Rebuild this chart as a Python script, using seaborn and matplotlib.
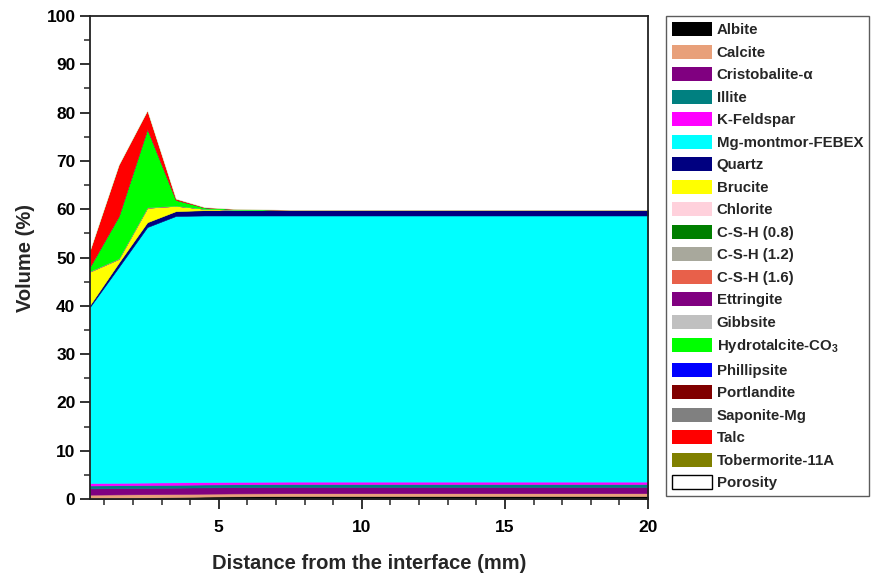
import matplotlib
matplotlib.use("Agg")
import matplotlib.pyplot as plt
from matplotlib.patches import Patch
from matplotlib.ticker import MultipleLocator
import seaborn as sns
import numpy as np

# ---------------- data ----------------
distance = [0.5, 1.5, 2.5, 3.5, 4.5, 5.5, 7.5, 10, 12.5, 15, 17.5, 20]

albite       = [0.1, 0.2, 0.3, 0.4, 0.5, 0.55, 0.6, 0.6, 0.6, 0.6, 0.6, 0.6]
calcite      = [0.8, 0.75, 0.7, 0.65, 0.6, 0.6, 0.6, 0.6, 0.6, 0.6, 0.6, 0.6]
cristobalite = [1.3, 1.3, 1.3, 1.3, 1.3, 1.3, 1.3, 1.3, 1.3, 1.3, 1.3, 1.3]
illite       = [0.6, 0.6, 0.6, 0.6, 0.6, 0.6, 0.6, 0.6, 0.6, 0.6, 0.6, 0.6]
kfeldspar    = [0.5, 0.5, 0.5, 0.5, 0.5, 0.5, 0.5, 0.5, 0.5, 0.5, 0.5, 0.5]
mg_montmor   = [36.5, 44.65, 52.9, 55.15, 55.2, 55.15, 55.1, 55.1, 55.1, 55.1, 55.1, 55.1]
quartz       = [0.4, 0.9, 1.0, 1.0, 1.1, 1.1, 1.1, 1.1, 1.1, 1.1, 1.1, 1.1]
brucite      = [6.9, 0.8, 3.0, 1.1, 0.3, 0.1, 0.0, 0.0, 0.0, 0.0, 0.0, 0.0]
chlorite     = [0.0] * 12
csh08        = [0.0] * 12
csh12        = [0.0] * 12
csh16        = [0.1, 0.1, 0.1, 0.05, 0.0, 0.0, 0.0, 0.0, 0.0, 0.0, 0.0, 0.0]
ettringite   = [0.0] * 12
gibbsite     = [0.0] * 12
hydrotalcite = [1.0, 8.8, 16.3, 1.2, 0.3, 0.2, 0.1, 0.1, 0.1, 0.1, 0.1, 0.1]
phillipsite  = [0.0] * 12
portlandite  = [0.0] * 12
saponite     = [0.0] * 12
talc         = [3.4, 10.6, 3.8, 0.25, 0.05, 0.0, 0.0, 0.0, 0.0, 0.0, 0.0, 0.0]
tobermorite  = [0.0] * 12

labels = ["Albite", "Calcite", "Cristobalite-\u03b1", "Illite", "K-Feldspar",
          "Mg-montmor-FEBEX", "Quartz", "Brucite", "Chlorite", "C-S-H (0.8)",
          "C-S-H (1.2)", "C-S-H (1.6)", "Ettringite", "Gibbsite",
          "Hydrotalcite-CO$_3$", "Phillipsite", "Portlandite", "Saponite-Mg",
          "Talc", "Tobermorite-11A", "Porosity"]

colors = ["#000000", "#E8A07A", "#800080", "#008080", "#FF00FF",
          "#00FFFF", "#000080", "#FFFF00", "#FFD1DC", "#007F00",
          "#A8A89C", "#E8604A", "#800080", "#C0C0C0",
          "#00FF00", "#0000FF", "#800000", "#808080",
          "#FF0000", "#808000", "#FFFFFF"]

minerals = [albite, calcite, cristobalite, illite, kfeldspar, mg_montmor,
            quartz, brucite, chlorite, csh08, csh12, csh16, ettringite,
            gibbsite, hydrotalcite, phillipsite, portlandite, saponite,
            talc, tobermorite]
porosity = list(100 - np.sum(np.array(minerals), axis=0))
series = minerals + [porosity]

# ---------------- style ----------------
sns.set_theme(style="ticks")
plt.rcParams["font.family"] = ["Liberation Sans", "DejaVu Sans"]
plt.rcParams["font.weight"] = "bold"
plt.rcParams["mathtext.fontset"] = "custom"
plt.rcParams["mathtext.rm"] = "Liberation Sans:bold"
plt.rcParams["mathtext.it"] = "Liberation Sans:bold"
plt.rcParams["mathtext.bf"] = "Liberation Sans:bold"

fig = plt.figure(figsize=(8.72, 5.79), dpi=100)
ax = fig.add_axes([90 / 872, 1 - 499 / 579, (648 - 90) / 872, (499 - 16) / 579])

polys = ax.stackplot(distance, *series, colors=colors, linewidth=0.4)
for p, c in zip(polys, colors):
    p.set_edgecolor(c)

ax.set_xlim(0.5, 20)
ax.set_ylim(0, 100)
ax.xaxis.set_major_locator(MultipleLocator(5))
ax.xaxis.set_minor_locator(MultipleLocator(1))
ax.yaxis.set_major_locator(MultipleLocator(10))
ax.yaxis.set_minor_locator(MultipleLocator(5))
ax.tick_params(which="major", direction="out", length=7, width=1.3,
               labelsize=12.5, colors="#222222", labelcolor="black")
ax.tick_params(which="minor", direction="out", length=4, width=1.1)
ax.tick_params(axis="x", which="both", top=False, pad=8)
ax.tick_params(axis="y", which="both", right=False)
for lab in ax.get_xticklabels() + ax.get_yticklabels():
    lab.set_fontweight("bold")
for s in ax.spines.values():
    s.set_linewidth(1.3)
    s.set_color("#222222")

ax.set_xlabel("Distance from the interface (mm)", fontsize=14.5,
              fontweight="bold", labelpad=14)
ax.set_ylabel("Volume (%)", fontsize=14.5, fontweight="bold", labelpad=8)

handles = []
for lab, c in zip(labels, colors):
    if lab == "Porosity":
        handles.append(Patch(facecolor=c, edgecolor="black", linewidth=1.0, label=lab))
    else:
        handles.append(Patch(facecolor=c, edgecolor=c, linewidth=0, label=lab))

leg = fig.legend(handles=handles, loc="upper left",
                 bbox_to_anchor=(666 / 872, 1 - 16 / 579),
                 borderaxespad=0, frameon=True, fancybox=False,
                 handlelength=2.67, handleheight=1.07,
                 handletextpad=0.3, labelspacing=0.49, borderpad=0.4,
                 prop={"weight": "bold", "size": 10.8})
leg.get_frame().set_edgecolor("#333333")
leg.get_frame().set_linewidth(1.0)

fig.savefig("out.png", dpi=100)
